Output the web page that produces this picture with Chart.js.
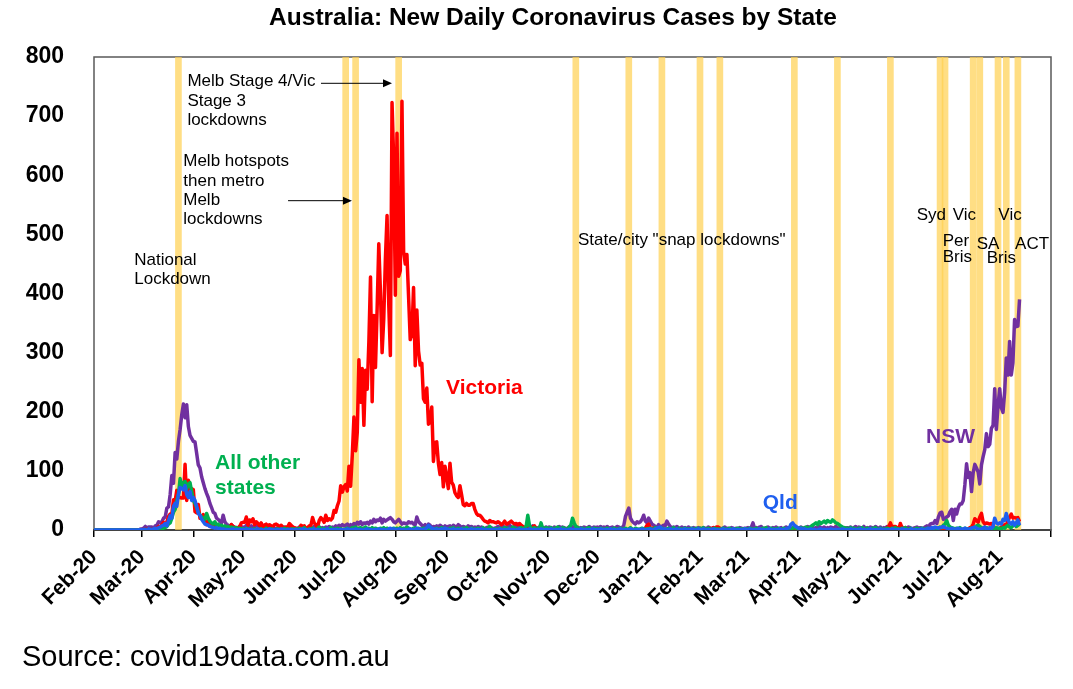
<!DOCTYPE html>
<html lang="en">
<head>
  <meta charset="UTF-8">
  <title>Australia: New Daily Coronavirus Cases by State</title>
  <style>
    body { margin: 0; background: #fff; }
    canvas { display: block; }
  </style>
  <script src="https://cdn.jsdelivr.net/npm/chart.js"></script>
</head>
<body>
  <canvas id="casesChart" width="1073" height="689"></canvas>

  <script>
    // Month tick labels (first tick = 1 Feb 2020, last unlabelled tick = 1 Sep 2021)
    const monthLabels = ['Feb-20', 'Mar-20', 'Apr-20', 'May-20', 'Jun-20', 'Jul-20', 'Aug-20', 'Sep-20', 'Oct-20', 'Nov-20',
      'Dec-20', 'Jan-21', 'Feb-21', 'Mar-21', 'Apr-21', 'May-21', 'Jun-21', 'Jul-21', 'Aug-21', ''];

    // Daily new cases, one row per month (Feb-20 ... Aug-21, last row ends 13 Aug)
    const victoria = [
      [0,0,0,0,0,0,0,0,0,0,0,0,0,0,0,0,0,0,0,0,0,0,0,0,0,0,0,0,1],
      [0,1,0,2,1,1,1,0,3,2,6,3,9,13,8,14,23,27,27,51,49,67,56,55,54,54,111,50,84,66,70],
      [68,31,29,43,20,21,26,13,9,18,6,7,10,5,3,2,6,1,3,0,3,3,2,9,6,1,3,4,6,12],
      [13,13,22,8,17,14,19,9,14,11,7,12,4,8,10,7,9,7,6,9,10,8,4,8,5,3,5,5,11,8,5],
      [4,3,2,2,8,6,7,2,4,7,8,21,12,9,4,16,21,18,13,25,16,19,17,20,33,30,41,49,75,64],
      [73,77,66,108,74,127,191,134,165,288,216,273,177,270,238,317,428,217,363,275,374,484,403,300,357,459,532,384,295,723,627],
      [397,671,429,439,725,471,450,466,394,322,331,410,278,372,303,279,282,222,216,240,179,182,208,116,148,149,113,94,114,73,108],
      [90,70,113,81,76,63,58,55,75,60,43,41,45,42,42,45,45,35,28,25,25,22,18,15,14,12,16,14,14,13],
      [12,14,12,9,11,15,10,11,13,15,12,10,11,9,11,8,6,4,3,4,2,3,5,7,1,0,2,0,0,0,0],
      [0,0,0,0,0,0,0,0,0,0,0,0,0,0,0,0,0,0,0,0,0,0,0,0,0,0,0,0,0,0],
      [0,0,0,0,0,0,0,0,0,0,0,0,0,0,0,0,0,0,0,0,0,0,0,0,0,0,0,0,0,3,8],
      [10,3,3,3,0,0,0,0,1,0,0,1,0,0,0,0,0,1,0,1,0,0,0,0,0,0,0,0,0,0,0],
      [0,0,1,1,0,1,3,2,4,3,5,5,2,1,2,0,0,1,0,0,0,0,0,0,0,0,0,0],
      [0,0,0,0,0,0,0,0,0,0,0,0,0,0,0,0,0,0,0,0,0,0,0,0,0,0,0,0,0,0,0],
      [0,0,0,0,0,0,0,0,0,0,0,0,0,0,0,0,0,0,0,0,0,0,0,0,0,0,0,0,0,0],
      [0,0,0,0,0,0,0,0,0,0,0,0,0,0,0,0,0,0,0,0,0,0,0,1,4,6,12,4,6,6,4],
      [0,11,4,2,4,1,2,0,1,2,2,0,0,0,1,0,0,0,0,0,0,0,0,0,0,0,0,0,0,0],
      [0,0,0,0,0,0,0,0,0,0,0,0,2,4,5,10,19,16,13,22,28,14,10,12,11,10,11,8,3,1,0],
      [2,5,6,9,8,15,22,27,20,21,20,21,14]
    ];
    const nsw = [
      [0,0,0,0,0,0,0,0,0,0,0,0,0,0,0,0,0,0,0,0,0,0,0,0,0,0,0,0,1],
      [2,3,6,3,5,5,5,2,7,8,14,12,14,20,22,37,39,60,92,79,131,120,150,170,195,213,190,212,175,160,155],
      [150,149,130,110,105,90,80,70,62,55,45,38,30,28,20,18,15,12,25,14,10,8,6,9,6,5,4,3,6,5],
      [5,4,8,3,6,7,4,5,10,6,3,4,6,8,5,4,3,6,5,3,2,4,6,3,2,5,3,4,6,3,5],
      [3,2,2,5,4,3,4,2,3,5,4,3,6,2,4,5,3,4,2,5,3,6,4,5,4,7,5,8,6,9],
      [7,8,10,6,9,7,11,8,13,10,14,9,12,11,13,10,15,12,18,14,17,16,20,12,18,15,17,19,21,18,14],
      [12,15,18,14,10,12,11,10,14,12,13,10,9,22,14,11,8,6,9,5,10,8,4,6,5,7,5,8,6,4,7],
      [5,6,7,4,8,6,5,9,7,4,6,5,3,7,5,6,4,5,3,6,4,5,3,2,4,5,3,4,2,3],
      [4,6,5,3,7,4,5,6,8,5,4,6,5,9,4,7,5,3,6,4,5,3,7,5,4,3,5,6,4,3,5],
      [3,5,4,2,5,3,4,6,3,5,4,2,3,5,4,6,3,4,5,2,4,3,5,4,3,6,4,3,5,4],
      [5,4,6,3,5,4,6,3,4,5,3,4,6,5,3,4,8,23,30,37,20,15,12,10,14,12,14,18,25,15,12],
      [20,15,10,8,6,4,9,5,6,8,7,15,10,6,4,5,3,6,4,2,5,3,4,2,5,3,2,4,3,2,4],
      [3,2,4,3,2,5,3,2,4,3,2,4,3,2,3,5,2,3,2,4,3,2,3,2,4,3,2,3],
      [3,4,2,5,12,2,4,3,5,6,2,3,4,5,3,2,4,3,5,2,3,4,2,3,5,3,4,2,3,5,4],
      [4,3,5,2,4,3,6,4,3,5,2,4,3,6,4,3,5,2,4,3,5,4,3,6,4,3,5,2,4,3],
      [4,3,5,2,4,6,3,5,4,3,6,2,4,3,5,4,3,6,4,3,5,2,4,3,6,4,3,5,2,4,3],
      [4,3,5,2,4,3,5,4,2,3,4,5,3,4,3,3,5,7,3,10,11,11,16,11,22,29,30,18,19,22],
      [24,31,35,16,35,27,38,44,44,50,77,112,89,97,65,97,111,105,98,78,110,124,136,163,141,145,172,177,239,170,210],
      [239,207,199,233,291,262,319,262,283,356,344,345,390]
    ];
    const otherStates = [
      [0,0,0,0,0,0,0,0,0,0,0,0,0,0,0,0,0,0,0,0,0,0,0,0,0,0,0,0,0],
      [0,0,1,0,1,1,0,1,0,1,1,2,2,3,4,6,10,12,20,30,35,50,60,87,75,80,82,70,78,80,65],
      [50,45,38,30,25,22,20,18,28,20,15,12,10,14,8,10,6,8,5,7,4,6,3,5,4,3,4,2,3,2],
      [2,1,3,1,2,0,1,2,1,0,1,2,0,1,3,1,0,2,1,0,1,2,1,0,1,3,1,2,0,1,2],
      [1,2,0,3,1,2,4,1,0,2,1,3,1,0,2,5,1,2,3,0,1,2,4,1,2,0,3,1,2,1],
      [1,2,3,1,2,4,3,5,2,3,4,2,3,5,2,3,1,4,2,3,2,1,3,2,4,1,3,2,1,2,3],
      [2,3,1,4,2,3,2,5,3,2,1,3,4,2,3,1,2,3,2,4,1,3,2,1,2,3,1,2,4,2,3],
      [2,1,3,2,4,1,2,3,1,2,3,1,4,2,1,3,2,1,2,3,1,2,4,1,2,3,6,2,1,2],
      [2,1,3,2,1,4,2,3,1,2,5,3,2,1,3,4,2,3,6,25,8,3,2,4,1,3,2,12,3,2,4],
      [3,2,4,1,3,2,5,3,2,4,3,2,1,5,8,20,12,6,4,3,2,3,1,2,3,4,2,1,3,2],
      [2,1,3,2,1,2,3,1,2,1,3,2,1,2,3,1,2,3,1,2,4,2,1,3,2,1,2,3,2,1,2],
      [2,3,1,2,4,3,2,1,3,2,1,2,3,1,2,4,2,1,3,2,1,2,3,1,2,1,3,2,1,3,2],
      [3,2,4,2,1,3,2,1,2,3,1,2,1,2,3,2,1,2,3,1,2,1,2,3,1,2,1,2],
      [2,1,3,2,1,2,3,1,2,1,3,2,4,1,2,3,1,2,1,3,2,1,2,3,1,2,4,2,3,5,3],
      [3,2,4,3,2,5,3,4,6,8,10,12,9,14,11,13,15,12,16,14,13,17,15,12,11,9,7,5,4,3],
      [3,2,4,2,3,1,2,3,2,4,1,2,3,2,1,3,2,4,2,1,3,2,1,2,3,2,1,3,2,4,2],
      [2,1,3,2,4,2,1,3,2,1,2,3,1,2,3,2,1,3,2,1,2,3,4,2,3,5,4,8,10,16],
      [8,5,4,3,2,3,2,4,2,1,3,2,1,2,3,2,5,7,8,6,4,3,2,4,3,2,1,3,2,4,3],
      [3,2,4,3,6,8,5,4,7,9,6,8,10]
    ];
    const qld = [
      [0,0,0,0,0,0,0,0,0,0,0,0,0,0,0,0,0,0,0,0,0,0,0,0,0,0,0,0,1],
      [0,1,0,1,2,1,0,2,3,2,4,5,7,8,11,7,16,24,20,40,45,40,60,72,70,68,75,60,55,65,50],
      [55,50,40,28,25,18,14,10,9,8,6,5,4,3,4,2,3,1,2,1,1,0,1,1,2,0,1,0,1,0],
      [1,0,2,1,0,1,0,0,1,2,0,1,0,0,1,0,2,0,1,0,0,1,0,2,1,0,0,1,0,1,0],
      [0,1,0,0,1,2,0,1,0,0,1,0,2,0,1,0,0,1,0,1,2,0,0,1,0,1,0,0,1,0],
      [1,0,2,1,0,1,0,2,1,0,1,0,0,1,2,0,1,0,0,1,0,2,1,0,1,0,0,2,3,1,2],
      [1,0,2,1,0,1,0,0,1,2,0,1,0,3,1,2,0,1,2,4,8,5,3,2,1,2,0,1,2,1,3],
      [2,1,0,1,2,0,1,0,1,2,0,1,0,0,1,2,0,1,0,1,0,2,1,0,1,0,1,0,1,0],
      [1,0,2,1,0,1,0,1,2,0,1,0,0,1,2,0,1,0,1,0,2,1,0,1,0,1,0,2,1,0,1],
      [1,0,2,1,0,1,0,1,2,0,1,0,0,1,2,0,1,0,1,0,2,1,0,1,0,1,0,2,1,0],
      [1,0,2,1,0,1,0,1,2,0,1,0,0,1,2,0,1,0,1,0,2,1,0,1,0,1,0,2,1,0,1],
      [1,2,1,0,2,3,4,5,2,1,2,0,1,2,1,0,1,2,0,1,0,1,2,0,1,0,2,1,0,1,2],
      [1,0,2,1,0,1,0,1,2,0,1,0,0,1,2,0,1,0,1,0,2,1,0,1,0,1,0,2],
      [1,0,2,1,0,1,0,1,2,0,1,0,0,1,2,0,1,0,1,0,2,1,0,1,2,3,4,10,12,8,6],
      [4,2,3,1,2,1,0,1,2,0,1,0,0,1,2,0,1,0,1,0,2,1,0,1,0,1,0,2,1,0],
      [1,0,2,1,0,1,0,1,2,0,1,0,0,1,2,0,1,0,1,0,2,1,0,1,0,1,0,2,1,0,1],
      [1,0,2,1,0,1,0,1,2,0,1,0,0,1,2,0,1,2,3,2,4,3,5,4,3,4,5,6,4,3],
      [2,1,3,2,1,2,3,1,2,1,3,2,1,2,3,4,5,3,2,1,2,3,5,2,1,4,3,6,20,12,10],
      [12,10,18,16,28,17,12,10,14,8,12,17,8]
    ];

    // Lockdown start days (days since 1 Feb 2020), drawn as yellow bands
    const lockdownDays = [51, 152, 158, 184, 291, 323, 343, 366, 378, 423, 449, 481, 511, 514, 531, 535, 546, 551, 558];

    // Text notes, placed in axis units (day, cases)
    const notes = [
      { lines: ['National', 'Lockdown'], day: 24.3, val: 455.5, gap: 18.6, font: '17px', color: '#000' },
      { lines: ['Melb Stage 4/Vic', 'Stage 3', 'lockdowns'], day: 56.4, val: 758.2, gap: 19.2, font: '17px', color: '#000' },
      { lines: ['Melb hotspots', 'then metro', 'Melb', 'lockdowns'], day: 53.9, val: 622.9, gap: 19.2, font: '17px', color: '#000' },
      { lines: ['State/city "snap lockdowns"'], day: 292.3, val: 490.5, gap: 0, font: '17px', color: '#000' },
      { lines: ['Syd'], day: 496.9, val: 532.8, gap: 0, font: '17px', color: '#000' },
      { lines: ['Vic'], day: 518.6, val: 532.8, gap: 0, font: '17px', color: '#000' },
      { lines: ['Per', 'Bris'], day: 512.6, val: 488.8, gap: 16, font: '17px', color: '#000' },
      { lines: ['SA'], day: 533.1, val: 483.7, gap: 0, font: '17px', color: '#000' },
      { lines: ['Bris'], day: 539.2, val: 460.0, gap: 0, font: '17px', color: '#000' },
      { lines: ['Vic'], day: 546.2, val: 532.8, gap: 0, font: '17px', color: '#000' },
      { lines: ['ACT'], day: 556.3, val: 483.7, gap: 0, font: '17px', color: '#000' },
      { lines: ['Victoria'], day: 212.6, val: 239.7, gap: 0, font: 'bold 21px', color: '#FF0000' },
      { lines: ['NSW'], day: 502.5, val: 156.8, gap: 0, font: 'bold 21px', color: '#7030A0' },
      { lines: ['All other', 'states'], day: 73.1, val: 112.8, gap: 25, font: 'bold 21px', color: '#00B050' },
      { lines: ['Qld'], day: 403.9, val: 45.7, gap: 0, font: 'bold 21px', color: '#1F5FEF' }
    ];
    const arrows = [
      { from: 137.1, to: 180.0, val: 755.5 },
      { from: 117.2, to: 155.8, val: 557.0 }
    ];

    // Day offset of the first of each month from 1 Feb 2020
    const base = Date.UTC(2020, 1, 1);
    const monthStart = monthLabels.map((_, m) => (Date.UTC(2020, 1 + m, 1) - base) / 864e5);

    function toPoints(rows) {
      const pts = [];
      rows.forEach((row, m) => row.forEach((v, i) => pts.push({ x: monthStart[m] + i, y: v })));
      return pts;
    }

    const FONT = 'Arial, "Liberation Sans", sans-serif';

    // Frame, title, source line and notes
    const decorations = {
      id: 'decorations',
      beforeDatasetsDraw(chart) {
        const { ctx, chartArea: a } = chart;
        ctx.save();
        ctx.strokeStyle = '#595959';
        ctx.lineWidth = 1.5;
        ctx.strokeRect(a.left, a.top, a.right - a.left, a.bottom - a.top);
        ctx.restore();
      },
      afterDraw(chart) {
        const { ctx } = chart;
        const xs = chart.scales.x, ys = chart.scales.y;
        ctx.save();
        ctx.fillStyle = '#000';
        ctx.textBaseline = 'middle';
        ctx.textAlign = 'center';
        ctx.font = 'bold 24.5px ' + FONT;
        ctx.fillText('Australia: New Daily Coronavirus Cases by State', 553, 18);
        ctx.textAlign = 'left';
        ctx.font = '29px ' + FONT;
        ctx.fillText('Source: covid19data.com.au', 22, 658);

        notes.forEach(n => {
          ctx.font = n.font + ' ' + FONT;
          ctx.fillStyle = n.color;
          const x = xs.getPixelForValue(n.day);
          const y = ys.getPixelForValue(n.val);
          n.lines.forEach((t, i) => ctx.fillText(t, x, y + i * n.gap));
        });

        ctx.strokeStyle = '#000';
        ctx.fillStyle = '#000';
        ctx.lineWidth = 1;
        arrows.forEach(ar => {
          const x1 = xs.getPixelForValue(ar.from);
          const x2 = xs.getPixelForValue(ar.to);
          const y = ys.getPixelForValue(ar.val);
          ctx.beginPath();
          ctx.moveTo(x1, y);
          ctx.lineTo(x2 - 8, y);
          ctx.stroke();
          ctx.beginPath();
          ctx.moveTo(x2, y);
          ctx.lineTo(x2 - 9, y - 4);
          ctx.lineTo(x2 - 9, y + 4);
          ctx.closePath();
          ctx.fill();
        });
        ctx.restore();
      }
    };

    const lineStyle = (label, rows, color, order) => ({
      type: 'line',
      label: label,
      data: toPoints(rows),
      borderColor: color,
      backgroundColor: color,
      borderWidth: 3.5,
      pointRadius: 0,
      tension: 0,
      borderJoinStyle: 'round',
      order: order
    });

    new Chart(document.getElementById('casesChart').getContext('2d'), {
      type: 'line',
      data: {
        datasets: [
          lineStyle('Qld', qld, '#1F5FEF', 1),
          lineStyle('All other states', otherStates, '#00B050', 2),
          lineStyle('Victoria', victoria, '#FF0000', 3),
          lineStyle('NSW', nsw, '#7030A0', 4),
          {
            type: 'bar',
            label: 'Lockdowns',
            data: lockdownDays.map(d => ({ x: d, y: 800 })),
            backgroundColor: 'rgba(255, 208, 80, 0.7)',
            barThickness: 6,
            grouped: false,
            order: 10
          }
        ]
      },
      options: {
        responsive: false,
        animation: false,
        layout: { padding: { top: 57, right: 22, bottom: 0, left: 0 } },
        plugins: {
          legend: { display: false },
          tooltip: { enabled: false }
        },
        scales: {
          x: {
            type: 'linear',
            min: 0,
            max: monthStart[monthStart.length - 1],
            offset: false,
            afterBuildTicks: s => { s.ticks = monthStart.map(v => ({ value: v })); },
            afterFit: s => { s.height = 159; s.paddingLeft = 0; s.paddingRight = 0; },
            grid: { display: true, drawOnChartArea: false, drawTicks: true, tickLength: 7, color: '#000', lineWidth: 1.5, offset: false },
            border: { display: true, color: '#000', width: 2 },
            ticks: {
              autoSkip: false,
              minRotation: 45,
              maxRotation: 45,
              padding: 8,
              color: '#000',
              font: { family: FONT, size: 21, weight: 'bold' },
              callback: (v, i) => monthLabels[i] || ''
            }
          },
          y: {
            min: 0,
            max: 800,
            afterFit: s => { s.width = 94; },
            grid: { display: false },
            border: { display: false },
            ticks: {
              stepSize: 100,
              padding: 22,
              color: '#000',
              font: { family: FONT, size: 23, weight: 'bold' }
            }
          }
        }
      },
      plugins: [decorations]
    });
  </script>
</body>
</html>
